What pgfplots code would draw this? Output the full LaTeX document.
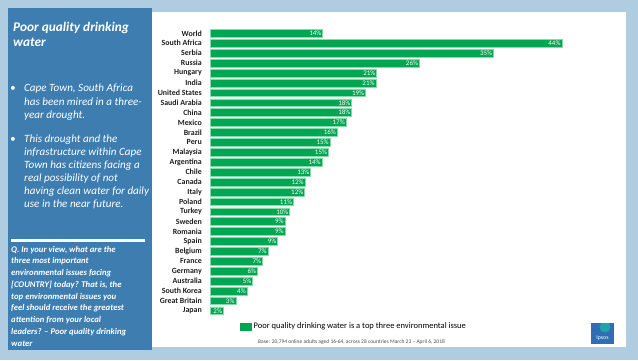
\documentclass[border=0pt]{standalone}
\usepackage{fontspec}
\setmainfont{Carlito}
\usepackage{pgfplots}
\pgfplotsset{compat=1.18}
\usepackage{pgfplotstable}
\definecolor{bgblue}{HTML}{B0CCE0}
\definecolor{panelblue}{HTML}{3D7DB0}
\definecolor{ipgreen}{HTML}{00A651}
\definecolor{edgegreen}{HTML}{86DCA8}
\definecolor{logoblue}{HTML}{2F6DB5}
\definecolor{logoteal}{HTML}{1FA5A8}
\pgfplotstableread{
idx val lab
0 14.0 14
1 43.7 44
2 35.2 35
3 26.0 26
4 20.7 21
5 20.6 21
6 19.3 19
7 17.6 18
8 17.6 18
9 16.9 17
10 15.8 16
11 14.9 15
12 14.7 15
13 13.9 14
14 12.5 13
15 11.8 12
16 11.75 12
17 10.35 11
18 9.9 10
19 9.3 9
20 9.3 9
21 8.4 9
22 7.2 7
23 6.5 7
24 5.9 6
25 5.3 5
26 4.6 4
27 3.2 3
28 1.65 2
}\datatable
\newcommand\tl[3]{\node[anchor=base west, inner sep=0pt] at (#1pt,-#2pt) {#3};}
\begin{document}
\begin{tikzpicture}
\useasboundingbox (0,0) rectangle (638pt,360pt);
\fill[bgblue] (0,0) rectangle (638pt,360pt);
\fill[white] (152pt,13pt) rectangle (626pt,348pt);
\fill[panelblue] (8pt,10pt) rectangle (152pt,352pt);
\fill[white] (11pt,118pt) rectangle (145pt,121pt);
% logo
\begin{scope}
\clip (591pt,16pt) rectangle (614pt,37pt);
\fill[logoblue] (591pt,16pt) rectangle (614pt,37pt);
\fill[logoteal] (605pt,33pt) circle (5.5pt);
\end{scope}
\node[text=white, font=\fontsize{5.8}{6}\selectfont, inner sep=0pt] at (602.5pt,21.5pt) {Ipsos};
\begin{scope}[shift={(0,360pt)}, text=white]
\begin{scope}[font=\fontsize{13.3}{16}\selectfont\bfseries\itshape]
\tl{13}{31}{Poor quality drinking}
\tl{13}{46.5}{water}
\end{scope}
\begin{scope}[font=\fontsize{11.1}{13}\selectfont\itshape]
\tl{10}{91.5}{\textbullet}
\tl{24}{91.5}{Cape Town, South Africa}
\tl{24}{105}{has been mired in a three-}
\tl{24}{118.5}{year drought.}
\tl{10}{142.8}{\textbullet}
\tl{24}{142.8}{This drought and the}
\tl{24}{155.8}{infrastructure within Cape}
\tl{24}{168.8}{Town has citizens facing a}
\tl{24}{181.8}{real possibility of not}
\tl{24}{194.8}{having clean water for daily}
\tl{24}{207.8}{use in the near future.}
\end{scope}
\begin{scope}[font=\fontsize{8.7}{10}\selectfont\bfseries\itshape]
\tl{11}{252}{Q. In your view, what are the}
\tl{11}{263.75}{three most important}
\tl{11}{275.5}{environmental issues facing}
\tl{11}{287.25}{[COUNTRY] today? That is, the}
\tl{11}{299}{top environmental issues you}
\tl{11}{310.75}{feel should receive the greatest}
\tl{11}{322.5}{attention from your local}
\tl{11}{334.25}{leaders? -- Poor quality drinking}
\tl{11}{346}{water}
\end{scope}
\node[anchor=base west, inner sep=0pt, text=black!70, font=\fontsize{5.5}{6}\selectfont] at (258pt,-343.5pt) {Base: 20,794 online adults aged 16-64, across 28 countries March 23 -- April 6, 2018};
\end{scope}
\begin{axis}[
  at={(210pt,332.6pt)}, anchor=north west, scale only axis,
  x=8.05pt, y=9.907pt,
  xmin=0, xmax=46, ymin=-0.6, ymax=28.6, y dir=reverse,
  xbar, bar width=7.8pt,
  axis line style={draw=none}, major tick length=0pt,
  xtick=\empty,
  ytick={0,...,28},
  yticklabels={World,South Africa,Serbia,Russia,Hungary,India,United States,Saudi Arabia,China,Mexico,Brazil,Peru,Malaysia,Argentina,Chile,Canada,Italy,Poland,Turkey,Sweden,Romania,Spain,Belgium,France,Germany,Australia,South Korea,Great Britain,Japan},
  yticklabel style={font=\fontsize{7.9}{8}\selectfont\bfseries, text=black!88, inner xsep=0pt, xshift=-8pt},
  legend style={at={(0.078,-0.034)}, anchor=west, draw=none, fill=none, font=\fontsize{8.5}{9}\selectfont, inner sep=1pt},
  legend image code/.code={\fill[ipgreen] (0pt,-3.5pt) rectangle (11pt,3.5pt);},
]
\addplot[fill=ipgreen, draw=edgegreen, line width=0.5pt,
  point meta=explicit symbolic,
  nodes near coords={\pgfplotspointmeta\%},
  every node near coord/.append style={anchor=east, text=white, font=\fontsize{7}{7}\selectfont, inner sep=1pt}]
  table[x=val, y=idx, meta=lab] {\datatable};
\addlegendentry{Poor quality drinking water is a top three environmental issue}
\end{axis}
\end{tikzpicture}
\end{document}
